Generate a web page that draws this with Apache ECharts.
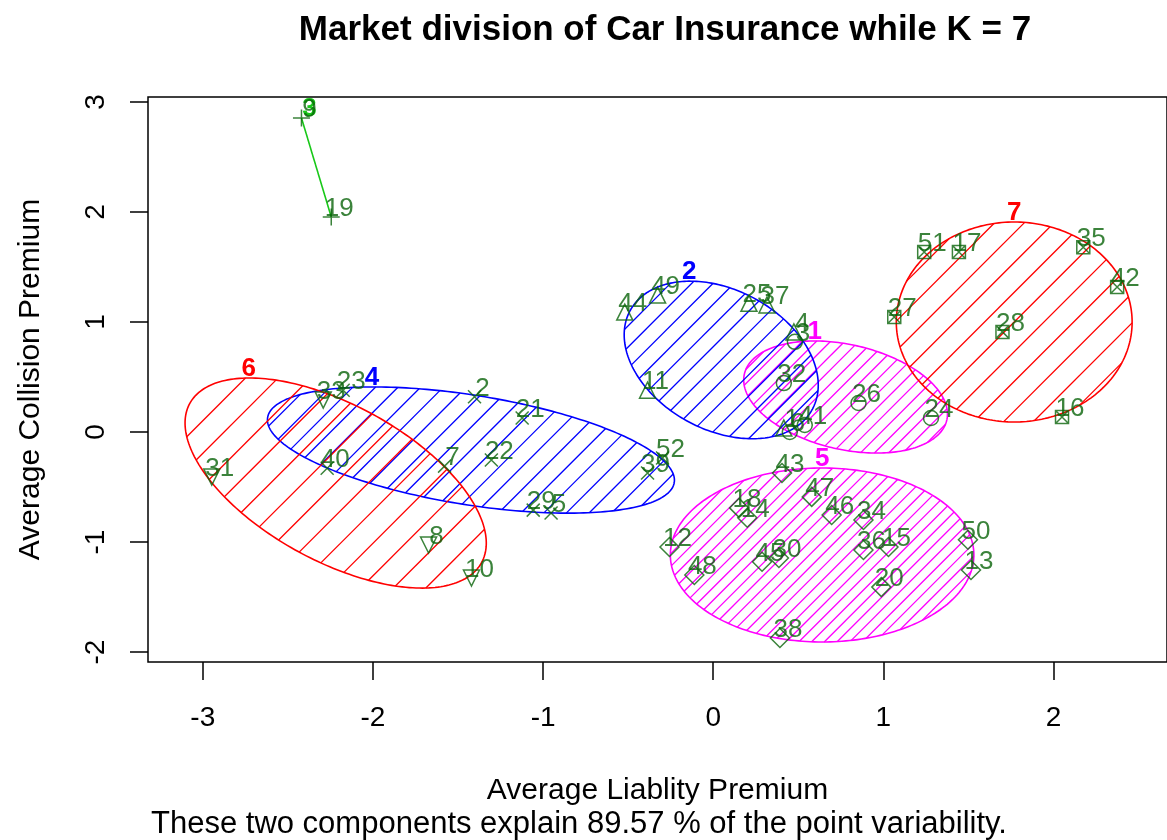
<!DOCTYPE html>
<html><head><meta charset="utf-8">
<script src="https://cdn.jsdelivr.net/npm/echarts@6/dist/echarts.min.js"></script>
<style>html,body{margin:0;padding:0;background:#fff}#c{width:1167px;height:840px}</style>
</head><body><div id="c"></div>
<script>
// ---------- data ----------
const xTicks = [-3, -2, -1, 0, 1, 2];
const yTicks = [-2, -1, 0, 1, 2, 3];
const clusterIds = [1, 2, 3, 4, 5, 6, 7];

const pointLabels = ['3','32','26','24','6','41',
  '44','49','25','37','4','11','1',
  '9','19',
  '23','40','7','2','22','21','29','5','39','52',
  '43','47','18','14','46','34','12','48','45','30','36','15','50','13','20','38',
  '33','31','8','10',
  '51','17','35','42','27','28','16'];
const pointX = [0.48,0.415,0.854,1.28,0.45,0.538,
  -0.52,-0.327,0.21,0.316,0.474,-0.386,0.415,
  -2.42,-2.245,
  -2.175,-2.269,-1.579,-1.403,-1.304,-1.123,-1.058,-0.953,-0.386,-0.298,
  0.404,0.579,0.152,0.2,0.696,0.883,-0.257,-0.111,0.287,0.386,0.883,1.03,1.497,1.515,0.988,0.392,
  -2.292,-2.947,-1.673,-1.421,
  1.24,1.444,2.175,2.374,1.064,1.70,2.05];
const pointY = [0.82,0.445,0.264,0.127,0.0,0.064,
  1.09,1.245,1.17,1.155,0.91,0.38,0.036,
  2.855,1.955,
  0.38,-0.33,-0.31,0.32,-0.255,0.127,-0.71,-0.736,-0.373,-0.236,
  -0.373,-0.59,-0.69,-0.78,-0.755,-0.80,-1.045,-1.30,-1.18,-1.145,-1.073,-1.045,-0.98,-1.255,-1.41,-1.873,
  0.29,-0.41,-1.027,-1.327,
  1.636,1.636,1.68,1.318,1.045,0.91,0.136];
const pointCluster = [1,1,1,1,1,1,
  2,2,2,2,2,2,2,
  3,3,
  4,4,4,4,4,4,4,4,4,4,
  5,5,5,5,5,5,5,5,5,5,5,5,5,5,5,5,
  6,6,6,6,
  7,7,7,7,7,7,7];

// spanning ellipses: centre + two conjugate half-axis vectors (data units)
const ellipseCX = [0.778, 0.047, -2.3325, -1.424, 0.640, -2.219, 1.769];
const ellipseCY = [0.318, 0.655, 2.405, -0.164, -1.118, -0.464, 1.0];
const ellipseUX = [0.595, 0.537, -0.0875, 1.195, 0.892, 0.858, 0.693];
const ellipseUY = [-0.208, -0.444, 0.45, -0.295, 0, -0.722, 0];
const ellipseVX = [-0.067, -0.192, 0, -0.050, 0, -0.218, 0];
const ellipseVY = [-0.465, -0.562, 0, -0.492, -0.791, -0.625, -0.909];

// ---------- styles ----------
const clusterColor = ['#FF00FF', '#0000FF', '#19C819', '#0000FF', '#FF00FF', '#FF0000', '#FF0000'];
const hatchSpacing = [10, 15, 0, 16, 9, 23, 21];
const clusterLabelShift = [0, 0, 8, 0, 0, 0, 0];
const ptColor = '#0a640a';
const FONT = '"Liberation Sans", Arial, Helvetica, sans-serif';
const symbolDefs = {
  1: {symbol: 'circle', size: 15, rotate: 0},
  2: {symbol: 'triangle', size: 16, rotate: 0},
  3: {symbol: 'path://M0 5L10 5M5 0L5 10', size: 17, rotate: 0},
  4: {symbol: 'path://M0 0L10 10M10 0L0 10', size: 13, rotate: 0},
  5: {symbol: 'diamond', size: 19, rotate: 0},
  6: {symbol: 'triangle', size: 16, rotate: 180},
  7: {symbol: 'path://M0 0L10 0L10 10L0 10Z M0 0L10 10M10 0L0 10', size: 13, rotate: 0}
};

const chart = echarts.init(document.getElementById('c'), null, {renderer: 'canvas'});

const ellipseSeries = {
  type: 'custom',
  z: 2,
  silent: true,
  clip: false,
  encode: {x: 0, y: 1},
  data: clusterIds.map((id, i) => [ellipseCX[i], ellipseCY[i]]),
  renderItem: function (params, api) {
    const i = params.dataIndex;
    const col = clusterColor[i];
    const c = api.coord([ellipseCX[i], ellipseCY[i]]);
    const pu = api.coord([ellipseCX[i] + ellipseUX[i], ellipseCY[i] + ellipseUY[i]]);
    const pv = api.coord([ellipseCX[i] + ellipseVX[i], ellipseCY[i] + ellipseVY[i]]);
    const U = [pu[0] - c[0], pu[1] - c[1]];
    const V = [pv[0] - c[0], pv[1] - c[1]];
    const at = t => [c[0] + U[0] * Math.cos(t) + V[0] * Math.sin(t), c[1] + U[1] * Math.cos(t) + V[1] * Math.sin(t)];
    const pts = [];
    let top = null;
    for (let k = 0; k <= 240; k++) {
      const p = at(k / 240 * 2 * Math.PI);
      pts.push(p);
      if (!top || p[1] < top[1]) top = p;
    }
    const children = [];
    const s = hatchSpacing[i];
    if (s > 0) {
      const a = (U[0] + U[1]) / Math.SQRT2, b = (V[0] + V[1]) / Math.SQRT2;
      const R = Math.hypot(a, b), phi = Math.atan2(b, a);
      const kmax = Math.floor(R / s);
      for (let k = -kmax; k <= kmax; k++) {
        const d = Math.acos(Math.max(-1, Math.min(1, k * s / R)));
        const p1 = at(phi + d), p2 = at(phi - d);
        children.push({type: 'line', shape: {x1: p1[0], y1: p1[1], x2: p2[0], y2: p2[1]},
          style: {stroke: col, lineWidth: 1.3}});
      }
    }
    children.push({type: 'polyline', shape: {points: pts}, style: {fill: null, stroke: col, lineWidth: 1.6}});
    children.push({type: 'text', x: top[0] + clusterLabelShift[i], y: top[1] + 4, z2: 10,
      style: {text: String(clusterIds[i]), fill: col, font: 'bold 26px ' + FONT, align: 'center', verticalAlign: 'bottom'}});
    return {type: 'group', children: children};
  }
};

const pointSeries = clusterIds.map(id => {
  const def = symbolDefs[id];
  const data = [];
  pointLabels.forEach((lab, j) => {
    if (pointCluster[j] === id) data.push({name: lab, value: [pointX[j], pointY[j]]});
  });
  return {
    type: 'scatter', z: 5, silent: true,
    symbol: def.symbol, symbolSize: def.size, symbolRotate: def.rotate,
    itemStyle: {color: 'rgba(0,0,0,0)', borderColor: ptColor, borderWidth: 1.5},
    label: {show: true, formatter: '{b}', position: 'inside', offset: [8, -8],
      color: ptColor, fontSize: 26, fontFamily: FONT},
    emphasis: {disabled: true},
    data: data
  };
});

chart.setOption({
  animation: false,
  backgroundColor: '#fff',
  title: [
    {text: 'Market division of Car Insurance while K = 7', left: 660, top: 8, textAlign: 'center',
      textStyle: {fontFamily: FONT, fontWeight: 'bold', fontSize: 35, color: '#000'}},
    {text: 'These two components explain 89.57 % of the point variability.', left: 146, top: 804,
      textStyle: {fontFamily: FONT, fontWeight: 'normal', fontSize: 31, color: '#000'}}
  ],
  grid: {left: 148, top: 97, width: 1024, height: 565, show: true, borderColor: '#000', borderWidth: 1.5, backgroundColor: 'transparent'},
  xAxis: {
    type: 'value', min: -3.322, max: 2.667,
    name: 'Average Liablity Premium', nameLocation: 'middle', nameGap: 114,
    nameTextStyle: {fontFamily: FONT, fontSize: 30, color: '#000'},
    axisLine: {show: false, onZero: false},
    axisTick: {show: true, inside: false, length: 18, customValues: xTicks, lineStyle: {color: '#000', width: 1.5}},
    axisLabel: {show: true, customValues: xTicks, margin: 42, fontFamily: FONT, fontSize: 28, color: '#000'},
    splitLine: {show: false}
  },
  yAxis: {
    type: 'value', min: -2.0909, max: 3.0455,
    name: 'Average Collision Premium', nameLocation: 'middle', nameGap: 102, nameRotate: 90,
    nameTextStyle: {fontFamily: FONT, fontSize: 30, color: '#000'},
    axisLine: {show: false, onZero: false},
    axisTick: {show: true, inside: false, length: 18, customValues: yTicks, lineStyle: {color: '#000', width: 1.5}},
    axisLabel: {show: true, customValues: yTicks, rotate: 90, margin: 38, fontFamily: FONT, fontSize: 28, color: '#000'},
    splitLine: {show: false}
  },
  series: [ellipseSeries].concat(pointSeries)
});
</script></body></html>
